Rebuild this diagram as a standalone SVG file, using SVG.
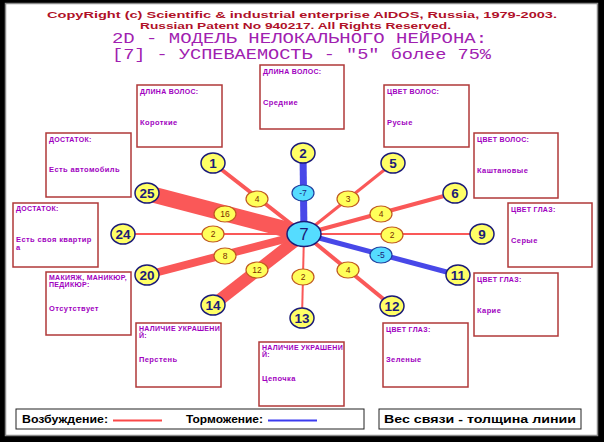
<svg xmlns="http://www.w3.org/2000/svg" width="604" height="442" viewBox="0 0 604 442">
<style>
.box{fill:#ffffff;stroke:#b03838;stroke-width:1.5}
.bt{font-family:"Liberation Sans",Arial,sans-serif;font-weight:bold;font-size:7px;fill:#a000c0;letter-spacing:0.3px}
.bv{font-family:"Liberation Sans",Arial,sans-serif;font-weight:bold;font-size:7.5px;fill:#a000c0;letter-spacing:0.4px}
.ex{stroke:#fa5858;stroke-linecap:butt}
.in{stroke:#4848e8;stroke-linecap:butt}
.on{fill:#ffff66;stroke:#1c1c78;stroke-width:1.5}
.ot{font-family:"Liberation Sans",Arial,sans-serif;font-weight:bold;font-size:13.5px;fill:#1c1c78;text-anchor:middle}
.wy{fill:#ffff5a;stroke:#c05a20;stroke-width:1.2}
.wc{fill:#55dcff;stroke:#2040a0;stroke-width:1.2}
.wt{font-family:"Liberation Sans",Arial,sans-serif;font-size:8.5px;fill:#7a2a00;text-anchor:middle}
.wtc{font-family:"Liberation Sans",Arial,sans-serif;font-size:8.5px;fill:#1c1c78;text-anchor:middle}
.lg{font-family:"Liberation Sans",Arial,sans-serif;font-weight:bold;font-size:11px;fill:#000000}
.h1{font-family:"Liberation Sans",Arial,sans-serif;font-weight:bold;font-size:9.5px;fill:#b01028}
.h2{font-family:"Liberation Mono","Courier New",monospace;font-size:14px;fill:#a020b0}
</style>
<rect x="0" y="0" width="604" height="442" fill="#000000"/>
<rect x="5.5" y="3.5" width="592" height="432" fill="#ffffff" stroke="#8a8a8a" stroke-width="1.5"/>

<g id="header">
<text class="h1" x="47" y="17.5" textLength="510" lengthAdjust="spacingAndGlyphs">CopyRight (c) Scientific &amp; industrial enterprise AIDOS, Russia, 1979-2003.</text>
<text class="h1" x="140" y="28.5" textLength="311" lengthAdjust="spacingAndGlyphs">Russian Patent No 940217. All Rights Reserved.</text>
<text class="h2" x="112" y="42.5" textLength="375" lengthAdjust="spacingAndGlyphs">2D - МОДЕЛЬ НЕЛОКАЛЬНОГО НЕЙРОНА:</text>
<text class="h2" x="112" y="58.5" textLength="379" lengthAdjust="spacingAndGlyphs">[7] - УСПЕВАЕМОСТЬ - "5" более 75%</text>
</g>

<g id="box-1"><rect class="box" x="137" y="85" width="85" height="62"/><text class="bt" x="140" y="94">ДЛИНА ВОЛОС:</text><text class="bv" x="140" y="125">Короткие</text></g>
<g id="box-2"><rect class="box" x="260" y="65" width="84" height="64"/><text class="bt" x="263" y="74">ДЛИНА ВОЛОС:</text><text class="bv" x="263" y="105">Средние</text></g>
<g id="box-5"><rect class="box" x="384" y="85" width="85" height="62"/><text class="bt" x="387" y="94">ЦВЕТ ВОЛОС:</text><text class="bv" x="387" y="125">Русые</text></g>
<g id="box-6"><rect class="box" x="474" y="133" width="84" height="65"/><text class="bt" x="477" y="142">ЦВЕТ ВОЛОС:</text><text class="bv" x="477" y="173">Каштановые</text></g>
<g id="box-9"><rect class="box" x="508" y="203" width="84" height="64"/><text class="bt" x="511" y="212">ЦВЕТ ГЛАЗ:</text><text class="bv" x="511" y="243">Серые</text></g>
<g id="box-11"><rect class="box" x="474" y="273" width="84" height="63"/><text class="bt" x="477" y="282">ЦВЕТ ГЛАЗ:</text><text class="bv" x="477" y="313">Карие</text></g>
<g id="box-12"><rect class="box" x="383" y="323" width="85" height="64"/><text class="bt" x="386" y="332">ЦВЕТ ГЛАЗ:</text><text class="bv" x="386" y="362">Зеленые</text></g>
<g id="box-13"><rect class="box" x="259" y="342" width="85" height="64"/><text class="bt" x="262" y="350">НАЛИЧИЕ УКРАШЕНИ</text><text class="bt" x="262" y="357">Й:</text><text class="bv" x="262" y="381">Цепочка</text></g>
<g id="box-14"><rect class="box" x="136" y="323" width="85" height="64"/><text class="bt" x="139" y="331">НАЛИЧИЕ УКРАШЕНИ</text><text class="bt" x="139" y="338">Й:</text><text class="bv" x="139" y="362">Перстень</text></g>
<g id="box-20"><rect class="box" x="46" y="272" width="85" height="63"/><text class="bt" x="49" y="280" textLength="78" lengthAdjust="spacingAndGlyphs">МАКИЯЖ, МАНИКЮР,</text><text class="bt" x="49" y="287">ПЕДИКЮР:</text><text class="bv" x="49" y="311">Отсутствует</text></g>
<g id="box-24"><rect class="box" x="13" y="203" width="85" height="64"/><text class="bt" x="16" y="211">ДОСТАТОК:</text><text class="bv" x="16" y="242">Есть своя квартир</text><text class="bv" x="16" y="250">а</text></g>
<g id="box-25"><rect class="box" x="46" y="133" width="85" height="64"/><text class="bt" x="49" y="142">ДОСТАТОК:</text><text class="bv" x="49" y="172">Есть автомобиль</text></g>

<g id="connectors">
<line class="ex" x1="304" y1="234" x2="213" y2="163" stroke-width="4"/>
<line class="in" x1="304" y1="234" x2="303" y2="153" stroke-width="7"/>
<line class="ex" x1="304" y1="234" x2="393" y2="163" stroke-width="3"/>
<line class="ex" x1="304" y1="234" x2="455" y2="193" stroke-width="4"/>
<line class="ex" x1="304" y1="234" x2="482" y2="234" stroke-width="2"/>
<line class="in" x1="304" y1="234" x2="458" y2="275" stroke-width="5"/>
<line class="ex" x1="304" y1="234" x2="392" y2="306" stroke-width="4"/>
<line class="ex" x1="304" y1="234" x2="302" y2="318" stroke-width="2"/>
<line class="ex" x1="304" y1="234" x2="213" y2="305" stroke-width="12"/>
<line class="ex" x1="304" y1="234" x2="147" y2="275" stroke-width="8"/>
<line class="ex" x1="304" y1="234" x2="123" y2="234" stroke-width="2"/>
<line class="ex" x1="304" y1="234" x2="147" y2="193" stroke-width="16"/>
<ellipse class="wy" cx="257" cy="199" rx="11" ry="8"/><text class="wt" x="257" y="202">4</text>
<ellipse class="wc" cx="303" cy="193" rx="11" ry="8"/><text class="wtc" x="303" y="196">-7</text>
<ellipse class="wy" cx="348" cy="199" rx="11" ry="8"/><text class="wt" x="348" y="202">3</text>
<ellipse class="wy" cx="381" cy="214" rx="11" ry="8"/><text class="wt" x="381" y="217">4</text>
<ellipse class="wy" cx="392" cy="235" rx="11" ry="8"/><text class="wt" x="392" y="238">2</text>
<ellipse class="wc" cx="381" cy="255" rx="11" ry="8"/><text class="wtc" x="381" y="258">-5</text>
<ellipse class="wy" cx="348" cy="270" rx="11" ry="8"/><text class="wt" x="348" y="273">4</text>
<ellipse class="wy" cx="303" cy="277" rx="11" ry="8"/><text class="wt" x="303" y="280">2</text>
<ellipse class="wy" cx="257" cy="270" rx="11" ry="8"/><text class="wt" x="257" y="273">12</text>
<ellipse class="wy" cx="225" cy="256" rx="11" ry="8"/><text class="wt" x="225" y="259">8</text>
<ellipse class="wy" cx="213" cy="234" rx="11" ry="8"/><text class="wt" x="213" y="237">2</text>
<ellipse class="wy" cx="225" cy="214" rx="11" ry="8"/><text class="wt" x="225" y="217">16</text>
</g>

<g id="node-7"><ellipse cx="304" cy="234" rx="17" ry="12.5" fill="#55dcff" stroke="#1c1c78" stroke-width="1.5"/><text x="304" y="240" font-family="Liberation Sans, Arial, sans-serif" font-size="17" fill="#1c1c78" text-anchor="middle">7</text></g>
<g id="node-1"><ellipse class="on" cx="213" cy="163" rx="12" ry="10"/><text class="ot" x="213" y="168">1</text></g>
<g id="node-2"><ellipse class="on" cx="303" cy="153" rx="12" ry="10"/><text class="ot" x="303" y="158">2</text></g>
<g id="node-5"><ellipse class="on" cx="393" cy="163" rx="12" ry="10"/><text class="ot" x="393" y="168">5</text></g>
<g id="node-6"><ellipse class="on" cx="455" cy="193" rx="12" ry="10"/><text class="ot" x="455" y="198">6</text></g>
<g id="node-9"><ellipse class="on" cx="482" cy="234" rx="12" ry="10"/><text class="ot" x="482" y="239">9</text></g>
<g id="node-11"><ellipse class="on" cx="458" cy="275" rx="12" ry="10"/><text class="ot" x="458" y="280">11</text></g>
<g id="node-12"><ellipse class="on" cx="392" cy="306" rx="12" ry="10"/><text class="ot" x="392" y="311">12</text></g>
<g id="node-13"><ellipse class="on" cx="302" cy="318" rx="12" ry="10"/><text class="ot" x="302" y="323">13</text></g>
<g id="node-14"><ellipse class="on" cx="213" cy="305" rx="12" ry="10"/><text class="ot" x="213" y="310">14</text></g>
<g id="node-20"><ellipse class="on" cx="147" cy="275" rx="12" ry="10"/><text class="ot" x="147" y="280">20</text></g>
<g id="node-24"><ellipse class="on" cx="123" cy="234" rx="12" ry="10"/><text class="ot" x="123" y="239">24</text></g>
<g id="node-25"><ellipse class="on" cx="147" cy="193" rx="12" ry="10"/><text class="ot" x="147" y="198">25</text></g>

<g id="legend">
<rect x="16" y="409" width="348" height="20" fill="#ffffff" stroke="#222222" stroke-width="1"/>
<text class="lg" x="22" y="423" textLength="86" lengthAdjust="spacingAndGlyphs">Возбуждение:</text>
<line x1="113" y1="420.5" x2="162" y2="420.5" stroke="#fa4848" stroke-width="2"/>
<text class="lg" x="186" y="423" textLength="77" lengthAdjust="spacingAndGlyphs">Торможение:</text>
<line x1="268" y1="420.5" x2="317" y2="420.5" stroke="#3c3cf0" stroke-width="2"/>
<rect x="379" y="409" width="202" height="20" fill="#ffffff" stroke="#222222" stroke-width="1"/>
<text class="lg" x="384" y="423" textLength="192" lengthAdjust="spacingAndGlyphs">Вес связи - толщина линии</text>
</g>
</svg>
